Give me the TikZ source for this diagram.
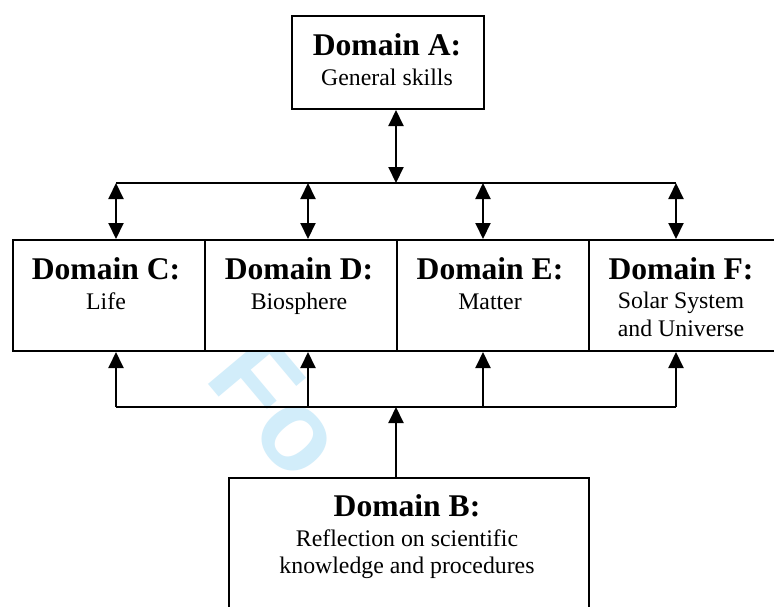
\documentclass[tikz,border=0pt]{standalone}
\usepackage{fontspec}
\setmainfont{Liberation Serif}
\newfontfamily\wmfont{Liberation Sans}
\usetikzlibrary{arrows.meta}
\definecolor{wmblue}{RGB}{210,237,250}
\tikzset{
  box/.style={draw=black, fill=white, line width=2pt, rectangle, anchor=north west, inner sep=0pt},
  rowbox/.style={box, minimum width=192pt, minimum height=111pt},
  title/.style={anchor=base, inner sep=0pt, font=\bfseries\fontsize{31.6}{36}\selectfont},
  sub/.style={anchor=base, inner sep=0pt, font=\fontsize{23.8}{27}\selectfont},
  conn/.style={draw=black, line width=2pt},
  both/.style={conn, {Triangle[length=16pt,width=15pt]}-{Triangle[length=16pt,width=15pt]}},
  up/.style={conn, -{Triangle[length=16pt,width=15pt]}},
  wm/.style={anchor=base west, inner sep=0pt, text=wmblue, rotate=-50, font=\wmfont\bfseries\fontsize{115}{120}\selectfont}
}
\begin{document}
\begin{tikzpicture}[x=1pt,y=-1pt]
\useasboundingbox (0,0) rectangle (774,606);
\fill[white] (0,0) rectangle (774,606);
% watermark
\node[wm] (wmark) at (203,378) {Fo};
% boxes
\node[box, minimum width=192pt, minimum height=93pt] (A) at (291,15) {};
\node[rowbox] (C) at (12,239) {};
\node[rowbox] (D) at (204,239) {};
\node[rowbox] (E) at (396,239) {};
\node[rowbox] (F) at (588,239) {};
\node[box, minimum width=360pt, minimum height=150pt] (B) at (228,477) {};
% texts
\node[title] (tA) at (387,55) {Domain A:};
\node[sub] (sA) at (387,85) {General skills};
\node[title] (tC) at (106,279) {Domain C:};
\node[sub] (sC) at (106,309) {Life};
\node[title] (tD) at (299,279) {Domain D:};
\node[sub] (sD) at (299,309) {Biosphere};
\node[title] (tE) at (490,279) {Domain E:};
\node[sub] (sE) at (490,309) {Matter};
\node[title] (tF) at (681,279) {Domain F:};
\node[sub] (sF1) at (681,308) {Solar System};
\node[sub] (sF2) at (681,336) {and Universe};
\node[title] (tB) at (407,516) {Domain B:};
\node[sub] (sB1) at (407,546) {Reflection on scientific};
\node[sub] (sB2) at (407,573) {knowledge and procedures};
% junction coordinates
\coordinate (jA) at (396,183);
\coordinate (t1) at (116,183);
\coordinate (t2) at (308,183);
\coordinate (t3) at (483,183);
\coordinate (t4) at (676,183);
\coordinate (jB) at (396,407);
\coordinate (b1) at (116,407);
\coordinate (b2) at (308,407);
\coordinate (b3) at (483,407);
\coordinate (b4) at (676,407);
% top connectors
\draw[conn] (t1) -- (t4);
\draw[both] (A.south -| jA) -- (jA);
\draw[both] (t1) -- (t1 |- C.north);
\draw[both] (t2) -- (t2 |- D.north);
\draw[both] (t3) -- (t3 |- E.north);
\draw[both] (t4) -- (t4 |- F.north);
% bottom connectors
\draw[conn] (b1) -- (b4);
\draw[up] (B.north -| jB) -- (jB);
\draw[up] (b1) -- (b1 |- C.south);
\draw[up] (b2) -- (b2 |- D.south);
\draw[up] (b3) -- (b3 |- E.south);
\draw[up] (b4) -- (b4 |- F.south);
\end{tikzpicture}
\end{document}
